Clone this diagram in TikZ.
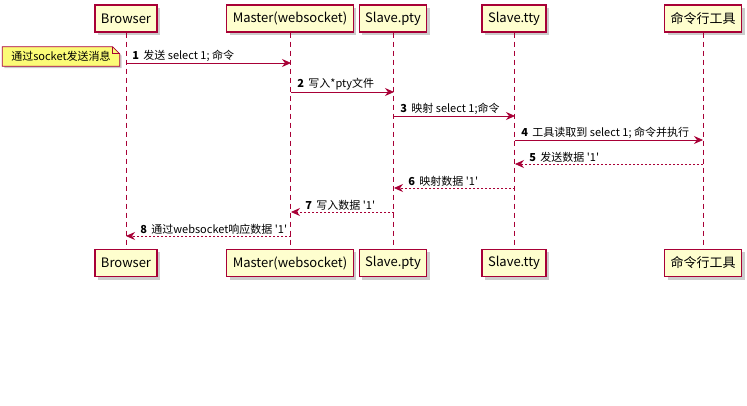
\documentclass[tikz,border=0pt]{standalone}
\usepackage{fontspec}
\newfontfamily\umlfont{Noto Sans CJK SC}
\usepackage{tikz}
\usetikzlibrary{arrows.meta, shadows}
\definecolor{umlred}{HTML}{A80036}
\definecolor{umlbox}{HTML}{FEFECE}
\definecolor{umlnote}{HTML}{FBFB77}
\tikzstyle{actor} = [rectangle, draw=umlred, line width=1.2pt, fill=umlbox, minimum height=27pt, inner xsep=6pt, font=\umlfont\fontsize{13}{15}\selectfont, drop shadow={shadow xshift=3pt, shadow yshift=-3pt, fill=black!40, opacity=0.5}]
\tikzstyle{lifeline} = [umlred, line width=0.8pt, dash pattern=on 5pt off 4pt]
\tikzstyle{msg} = [umlred, line width=0.8pt, -{Stealth[length=9pt, width=8pt, inset=3pt]}]
\tikzstyle{reply} = [msg, dash pattern=on 2pt off 2pt]
\tikzstyle{msgtext} = [above right, inner sep=1pt, yshift=0.5pt, font=\umlfont\fontsize{11}{13}\selectfont, text=black]
\tikzstyle{notebox} = [minimum width=117pt, minimum height=19pt, inner sep=0pt, font=\umlfont\fontsize{11}{13}\selectfont]

\begin{document}
\begin{tikzpicture}[x=1pt, y=-1pt]
    \useasboundingbox (0,0) rectangle (747,406);
    % Participants
    \node [actor] (brTop) at (126,18.5) {Browser};
    \node [actor] (maTop) at (290,18.5) {Master(websocket)};
    \node [actor] (ptTop) at (393,18.5) {Slave.pty};
    \node [actor] (ttTop) at (514,18.5) {Slave.tty};
    \node [actor] (clTop) at (703,18.5) {命令行工具};
    \node [actor] (brBot) at (126,263) {Browser};
    \node [actor] (maBot) at (290,263) {Master(websocket)};
    \node [actor] (ptBot) at (393,263) {Slave.pty};
    \node [actor] (ttBot) at (514,263) {Slave.tty};
    \node [actor] (clBot) at (703,263) {命令行工具};

    % Lifelines
    \foreach \p in {br, ma, pt, tt, cl}
        \draw [lifeline] (\p Top) -- (\p Bot);

    % Message rows
    \foreach \p/\x in {br/126, ma/291, pt/394, tt/515, cl/703}
        \foreach \i/\y in {1/63, 2/92, 3/116, 4/140, 5/164, 6/188, 7/212, 8/236}
            \coordinate (\p\i) at (\x,\y);

    % Note
    \node [notebox] (note) at (61,56.5) {};
    \draw [umlred, fill=umlnote, line width=0.8pt, drop shadow={shadow xshift=2pt, shadow yshift=-2pt, fill=black!40, opacity=0.5}]
        (note.south west) -- (note.north west) -- ([xshift=-7pt]note.north east)
        -- ([yshift=-7pt]note.north east) -- (note.south east) -- cycle;
    \draw [umlred, line width=0.8pt] ([xshift=-7pt]note.north east) |- ([yshift=-7pt]note.north east);
    \node [notebox] at (note) {通过socket发送消息};

    % Arrows
    \draw [msg] (br1) -- (ma1) node[msgtext, pos=0, xshift=5pt] {\textbf{1}\, 发送 select 1; 命令};
    \draw [msg] (ma2) -- (pt2) node[msgtext, pos=0, xshift=5pt] {\textbf{2}\, 写入*pty文件};
    \draw [msg] (pt3) -- (tt3) node[msgtext, pos=0, xshift=5pt] {\textbf{3}\, 映射 select 1;命令};
    \draw [msg] (tt4) -- (cl4) node[msgtext, pos=0, xshift=5pt] {\textbf{4}\, 工具读取到 select 1; 命令并执行};
    \draw [reply] (cl5) -- (tt5) node[msgtext, pos=1, xshift=13pt] {\textbf{5}\, 发送数据 '1'};
    \draw [reply] (tt6) -- (pt6) node[msgtext, pos=1, xshift=13pt] {\textbf{6}\, 映射数据 '1'};
    \draw [reply] (pt7) -- (ma7) node[msgtext, pos=1, xshift=13pt] {\textbf{7}\, 写入数据 '1'};
    \draw [reply] (ma8) -- (br8) node[msgtext, pos=1, xshift=13pt] {\textbf{8}\, 通过websocket响应数据 '1'};
\end{tikzpicture}
\end{document}
